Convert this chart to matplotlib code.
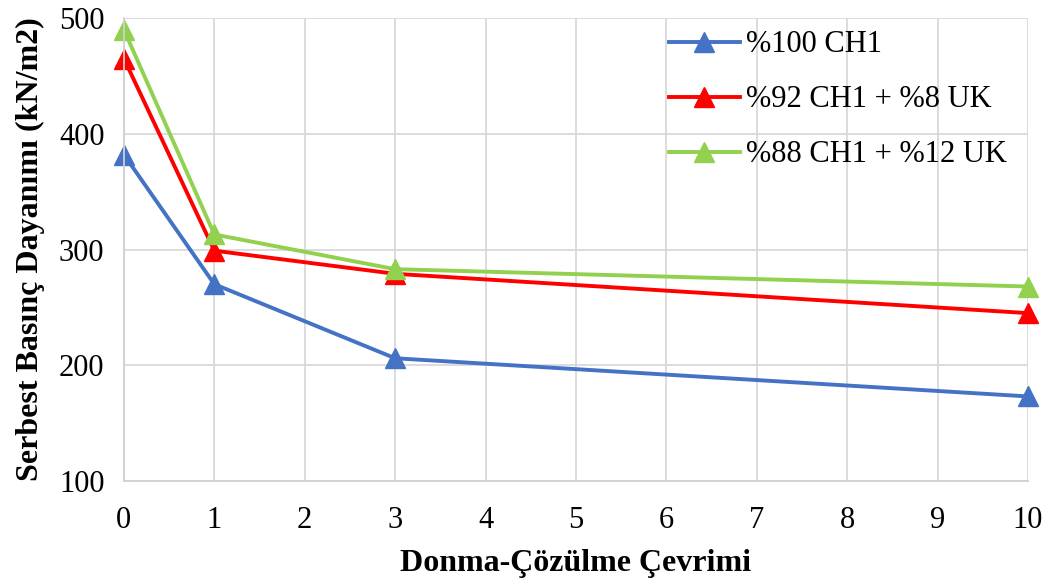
import matplotlib

matplotlib.use("Agg")
import matplotlib.pyplot as plt

plt.rcParams["font.family"] = ["Liberation Serif", "DejaVu Serif"]

# veri
cevrim = [0, 1, 3, 10]
ch1_100 = [382, 270, 206, 173]
ch1_92_uk8 = [465, 299, 279, 245]
ch1_88_uk12 = [490, 313, 283, 268]
etiketler = ["%100 CH1", "%92 CH1 + %8 UK", "%88 CH1 + %12 UK"]
renkler = ["#4472C4", "#FF0000", "#92D050"]

fig = plt.figure(figsize=(10.5, 5.85), dpi=100)
ax = fig.add_axes([0.118, 0.178, 0.861, 0.791])

for y, lab, c in zip([ch1_100, ch1_92_uk8, ch1_88_uk12], etiketler, renkler):
    ax.plot(cevrim, y, color=c, lw=2.8, marker="^", markersize=15, label=lab, clip_on=False)

ax.set_xlim(0, 10)
ax.set_ylim(100, 500)
ax.set_xticks(range(0, 11))
ax.set_yticks([100, 200, 300, 400, 500])
ax.grid(True, color="#D9D9D9", lw=1.3)
ax.set_axisbelow(True)
for s in ["top", "right"]:
    ax.spines[s].set_visible(False)
for s in ["left", "bottom"]:
    ax.spines[s].set_color("#D0D0D0")
    ax.spines[s].set_linewidth(1.3)
ax.tick_params(length=0, labelsize=22)
ax.tick_params(axis="x", pad=18)
ax.tick_params(axis="y", pad=14)

ax.set_xlabel("Donma-Çözülme Çevrimi", fontsize=23, fontweight="bold", labelpad=10)
ax.set_ylabel("Serbest Basınç Dayanımı (kN/m2)", fontsize=23, fontweight="bold", labelpad=10)

leg = ax.legend(loc="upper right", bbox_to_anchor=(1.0, 1.02), fontsize=22, frameon=False,
                handlelength=2.3, handletextpad=0.2, labelspacing=0.85, borderaxespad=0.3)

plt.savefig("out.png", dpi=100)
